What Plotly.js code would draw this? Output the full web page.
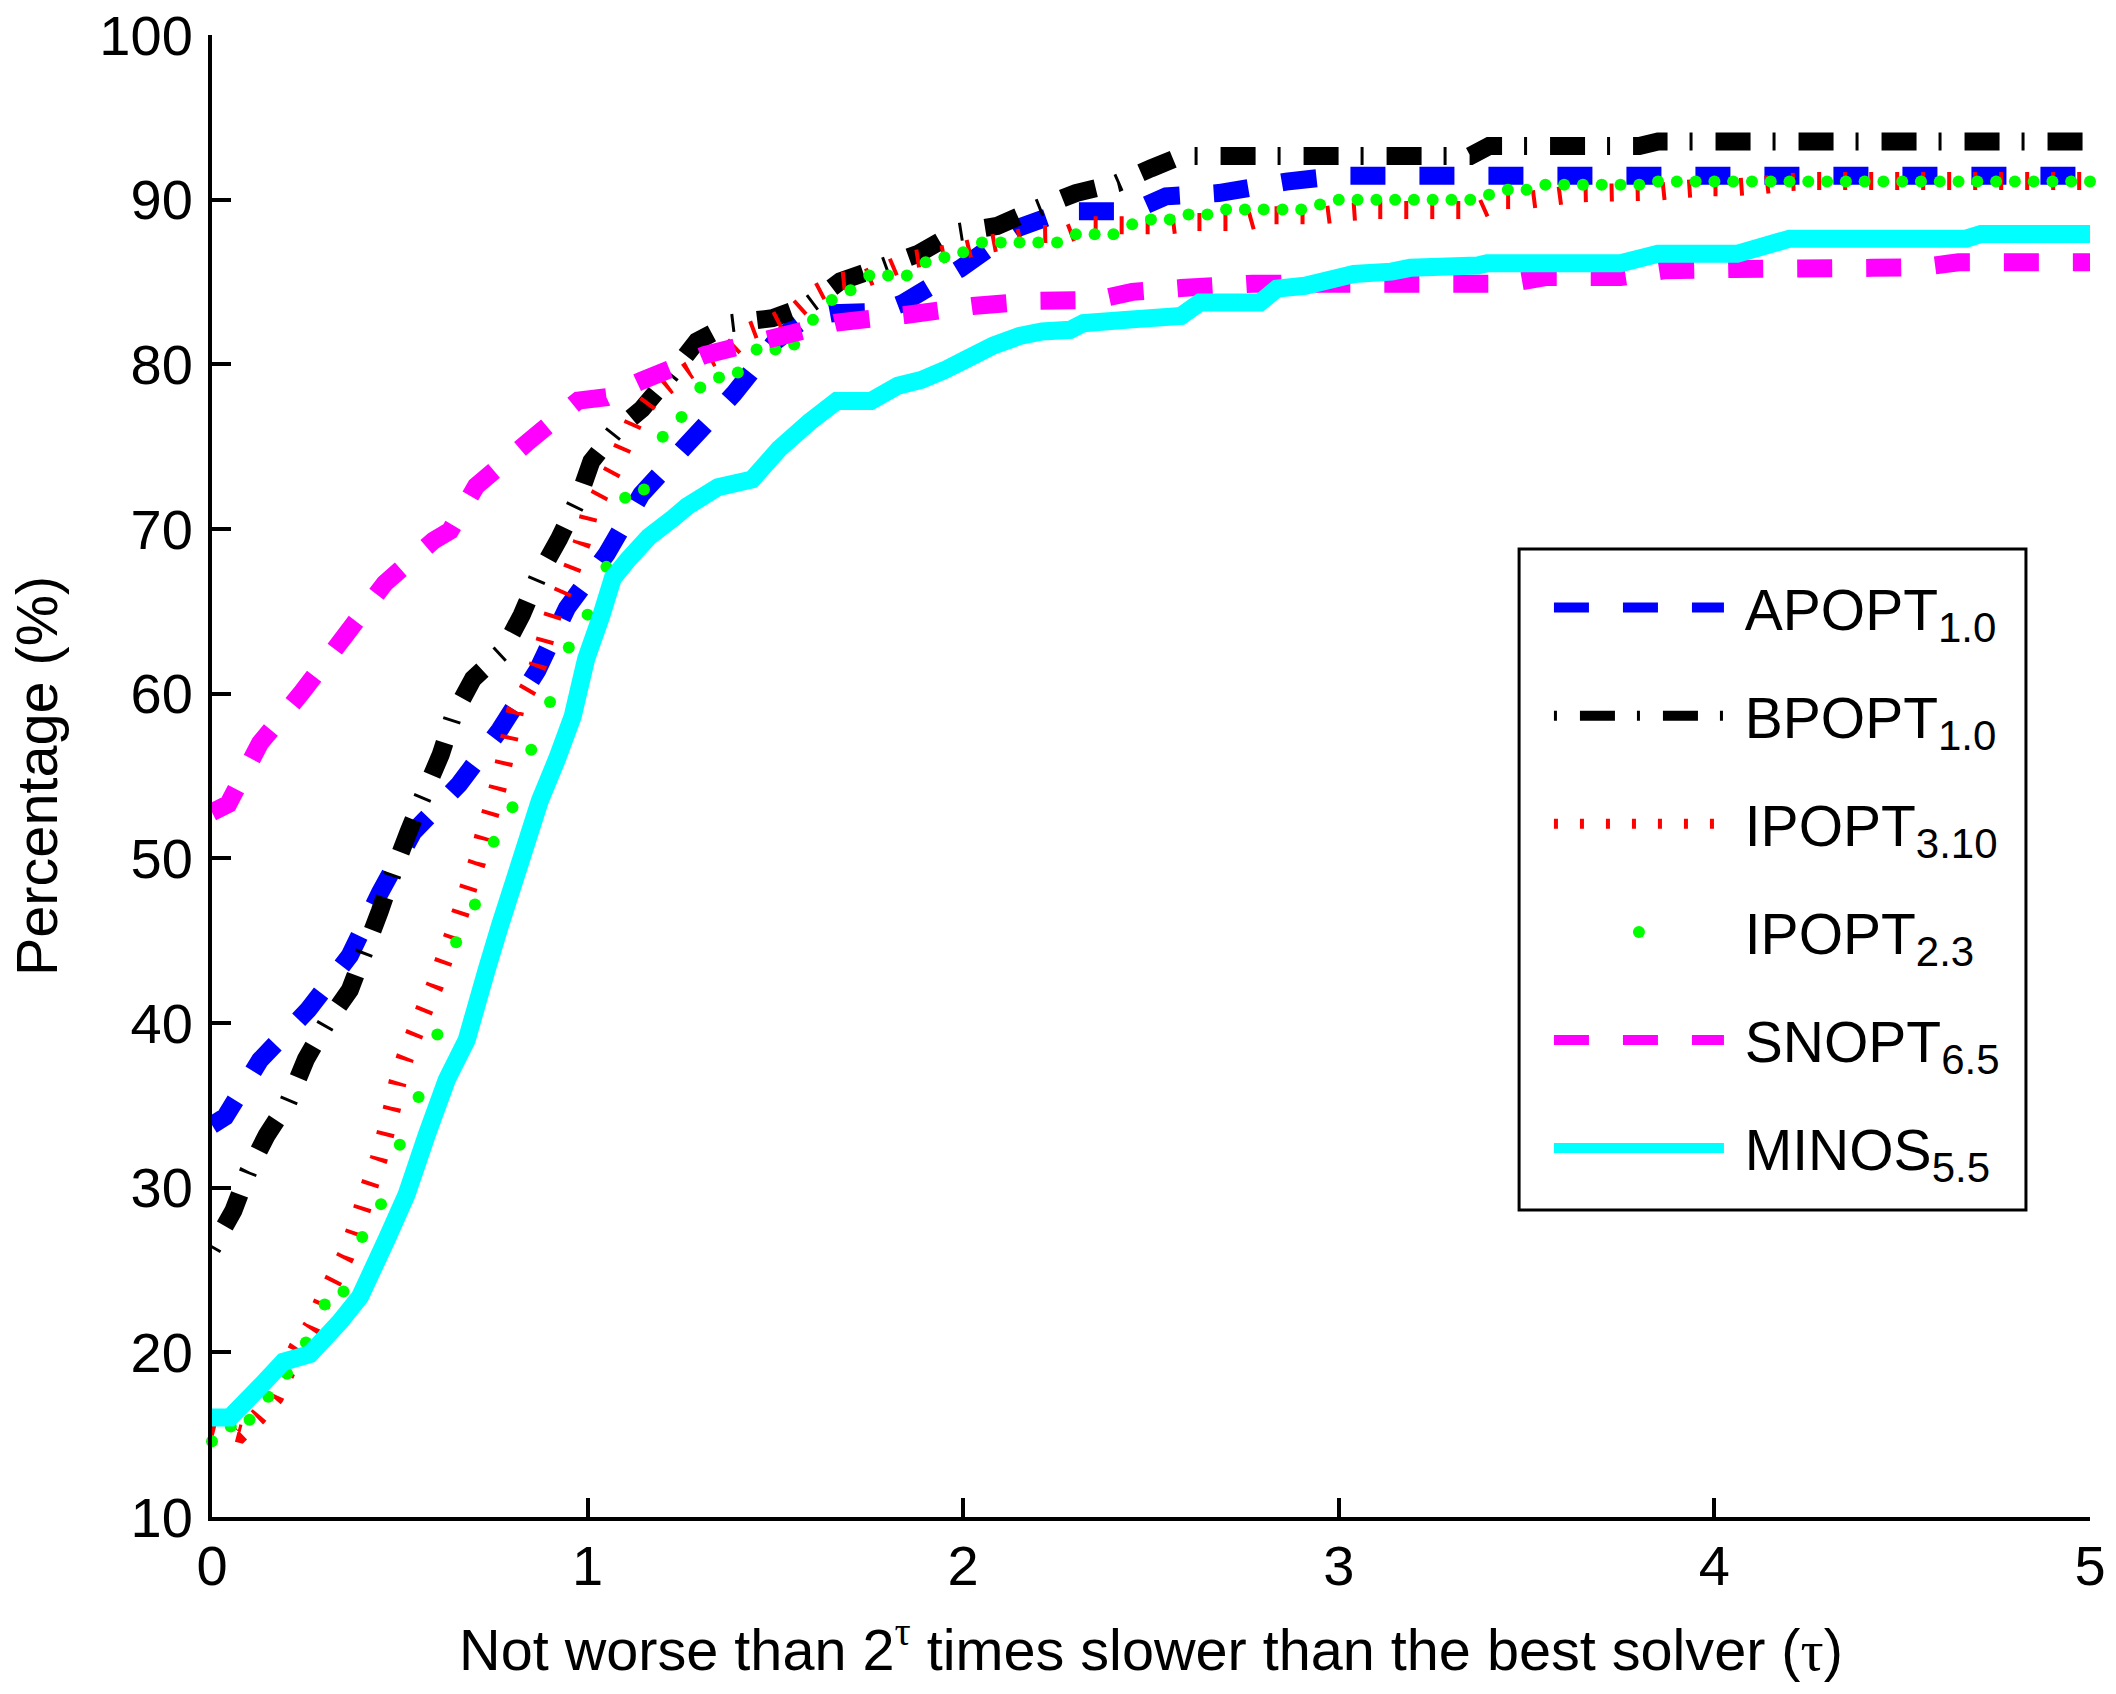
<!DOCTYPE html>
<html>
<head>
<meta charset="utf-8">
<script src="https://cdn.plot.ly/plotly-3.0.1.min.js"></script>
<style>html,body{margin:0;padding:0;background:#fff;}#chart{width:2116px;height:1694px;}</style>
</head>
<body>
<div id="chart"></div>
<script>
// ---- Data ----
const solverNames = ["APOPT", "BPOPT", "IPOPT", "IPOPT", "SNOPT", "MINOS"];
const solverVersions = ["1.0", "1.0", "3.10", "2.3", "6.5", "5.5"];

const tauApopt = [0, 0.035, 0.128, 0.256, 0.367, 0.447, 0.536, 0.658, 0.766, 0.866, 0.945, 1.051, 1.143, 1.263, 1.389, 1.50, 1.58, 1.652, 1.78, 1.838, 1.991, 2.147, 2.27, 2.45, 2.54, 2.68, 2.86, 3.0, 5.0];
const pctApopt = [33.8, 34.3, 37.75, 40.8, 44.1, 47.9, 51.6, 54.5, 57.8, 61.4, 65.2, 68.5, 72.1, 75.1, 78.2, 81.4, 82.8, 83.1, 83.2, 83.7, 85.8, 88.3, 89.3, 89.3, 90.2, 90.4, 91.1, 91.45, 91.45];

const tauBpopt = [0, 0.057, 0.097, 0.146, 0.203, 0.25, 0.305, 0.367, 0.407, 0.447, 0.483, 0.523, 0.567, 0.609, 0.643, 0.695, 0.773, 0.825, 0.87, 0.924, 0.973, 1.01, 1.072, 1.145, 1.219, 1.291, 1.382, 1.492, 1.589, 1.673, 1.782, 1.879, 1.979, 2.09, 2.19, 2.30, 2.41, 2.50, 2.58, 3.35, 3.40, 3.80, 3.85, 5.0];
const pctBpopt = [26.3, 28.6, 31.0, 33.2, 35.2, 37.8, 40.0, 42.0, 44.4, 46.8, 49.2, 51.6, 54.05, 56.3, 58.7, 60.9, 62.55, 64.8, 67.2, 69.4, 71.7, 74.1, 75.9, 77.3, 79.3, 81.4, 82.5, 82.8, 83.6, 85.05, 85.9, 86.7, 88.0, 88.4, 89.4, 90.4, 91.0, 91.9, 92.65, 92.65, 93.26, 93.26, 93.53, 93.53];

const tauIpopt310 = [0, 0.075, 0.123, 0.168, 0.227, 0.265, 0.295, 0.323, 0.356, 0.379, 0.401, 0.422, 0.444, 0.462, 0.48, 0.494, 0.514, 0.54, 0.567, 0.594, 0.617, 0.641, 0.663, 0.684, 0.706, 0.722, 0.742, 0.761, 0.777, 0.807, 0.843, 0.868, 0.888, 0.909, 0.936, 0.962, 0.985, 1.003, 1.034, 1.067, 1.094, 1.123, 1.163, 1.214, 1.27, 1.326, 1.385, 1.433, 1.495, 1.556, 1.607, 1.67, 1.737, 1.792, 1.862, 1.928, 2.0, 2.064, 2.135, 2.19, 2.28, 2.34, 2.55, 2.62, 2.755, 2.82, 2.96, 3.03, 3.1, 3.375, 3.435, 3.50, 3.57, 3.64, 3.85, 3.92, 3.985, 4.05, 4.12, 4.19, 4.26, 5.0];
const pctIpopt310 = [15.5, 15.06, 16.1, 17.3, 20.25, 21.56, 23.1, 24.37, 25.85, 27.3, 28.8, 30.3, 31.75, 33.3, 34.9, 36.4, 37.9, 39.4, 40.9, 42.3, 43.8, 45.3, 46.8, 48.3, 49.8, 51.3, 52.8, 54.3, 55.8, 58.96, 60.35, 61.74, 63.37, 64.88, 66.28, 67.79, 69.18, 70.81, 72.16, 73.56, 75.0, 76.5, 77.72, 78.72, 79.65, 80.35, 81.0, 82.03, 82.56, 83.26, 84.3, 85.05, 85.2, 85.7, 86.37, 86.6, 86.94, 87.29, 87.6, 87.9, 87.94, 88.45, 88.45, 88.65, 88.65, 89.06, 89.06, 89.26, 89.37, 89.37, 89.98, 89.98, 90.18, 90.39, 90.49, 90.65, 90.75, 90.75, 90.86, 91.06, 91.14, 91.14];

const tauGrid = [0, 0.05, 0.1, 0.15, 0.2, 0.25, 0.3, 0.35, 0.4, 0.45, 0.5, 0.55, 0.6, 0.65, 0.7, 0.75, 0.8, 0.85, 0.9, 0.95,
  1, 1.05, 1.1, 1.15, 1.2, 1.25, 1.3, 1.35, 1.4, 1.45, 1.5, 1.55, 1.6, 1.65, 1.7, 1.75, 1.8, 1.85, 1.9, 1.95,
  2, 2.05, 2.1, 2.15, 2.2, 2.25, 2.3, 2.35, 2.4, 2.45, 2.5, 2.55, 2.6, 2.65, 2.7, 2.75, 2.8, 2.85, 2.9, 2.95,
  3, 3.05, 3.1, 3.15, 3.2, 3.25, 3.3, 3.35, 3.4, 3.45, 3.5, 3.55, 3.6, 3.65, 3.7, 3.75, 3.8, 3.85, 3.9, 3.95,
  4, 4.05, 4.1, 4.15, 4.2, 4.25, 4.3, 4.35, 4.4, 4.45, 4.5, 4.55, 4.6, 4.65, 4.7, 4.75, 4.8, 4.85, 4.9, 4.95, 5];
const pctIpopt23 = [14.6, 15.5, 15.9, 17.3, 18.7, 20.6, 22.9, 23.7, 27.0, 29.0, 32.6, 35.5, 39.3, 44.9, 47.2, 51.0, 53.1, 56.6, 59.5, 62.8,
  64.8, 67.7, 71.9, 72.4, 75.6, 76.8, 78.6, 79.2, 79.5, 80.9, 80.9, 81.2, 82.7, 83.9, 84.5, 85.4, 85.4, 85.4, 86.2, 86.5,
  86.8, 87.4, 87.4, 87.4, 87.4, 87.4, 87.9, 87.9, 87.9, 88.5, 88.8, 88.8, 89.1, 89.1, 89.4, 89.4, 89.4, 89.4, 89.4, 89.7,
  90.0, 90.0, 90.0, 90.0, 90.0, 90.0, 90.0, 90.0, 90.3, 90.6, 90.6, 90.9, 90.9, 90.9, 90.9, 90.9, 90.9, 91.1, 91.1, 91.1,
  91.1, 91.1, 91.1, 91.1, 91.1, 91.1, 91.1, 91.1, 91.1, 91.1, 91.1, 91.1, 91.1, 91.1, 91.1, 91.1, 91.1, 91.1, 91.1, 91.1, 91.1];

const tauSnopt = [0, 0.0435, 0.128, 0.24, 0.35, 0.46, 0.59, 0.634, 0.703, 0.842, 0.975, 1.05, 1.143, 1.311, 1.484, 1.663, 1.846, 2.025, 2.193, 2.35, 2.45, 2.58, 2.77, 3.45, 3.55, 3.75, 3.865, 4.05, 4.42, 4.55, 4.65, 5.0];
const pctSnopt = [52.8, 53.3, 57.0, 60.1, 63.4, 66.7, 69.3, 69.9, 72.6, 75.3, 77.8, 78.0, 79.0, 80.56, 81.54, 82.54, 83.0, 83.54, 83.86, 83.9, 84.4, 84.63, 84.9, 84.9, 85.3, 85.3, 85.71, 85.79, 85.86, 85.9, 86.2, 86.2];

const tauMinos = [0, 0.048, 0.128, 0.19, 0.261, 0.341, 0.394, 0.465, 0.518, 0.572, 0.625, 0.678, 0.731, 0.767, 0.82, 0.873, 0.918, 0.960, 0.996, 1.036, 1.067, 1.107, 1.163, 1.229, 1.265, 1.347, 1.438, 1.51, 1.591, 1.663, 1.754, 1.826, 1.888, 1.949, 2.01, 2.08, 2.15, 2.21, 2.285, 2.32, 2.45, 2.58, 2.63, 2.79, 2.835, 2.91, 3.04, 3.14, 3.19, 3.37, 3.395, 3.75, 3.85, 4.06, 4.20, 4.67, 4.71, 5.0];
const pctMinos = [16.05, 16.05, 17.92, 19.43, 19.89, 21.86, 23.37, 26.86, 29.58, 33.22, 36.55, 38.97, 43.21, 45.94, 49.72, 53.51, 56.0, 58.6, 62.1, 64.7, 67.0, 68.13, 69.52, 70.68, 71.38, 72.54, 73.01, 74.87, 76.5, 77.77, 77.77, 78.7, 79.05, 79.63, 80.33, 81.14, 81.72, 82.0, 82.1, 82.5, 82.73, 82.94, 83.75, 83.75, 84.6, 84.77, 85.49, 85.63, 85.86, 86.0, 86.14, 86.14, 86.71, 86.71, 87.63, 87.63, 87.92, 87.92];

const xTickVals = [0, 1, 2, 3, 4, 5];
const yTickVals = [10, 20, 30, 40, 50, 60, 70, 80, 90, 100];

// ---- Figure ----
const FONT = "Liberation Sans, Arial, Helvetica, sans-serif";
const LW = 18;
const NB = "\u00A0";

function legendLabel(i) {
  return NB + solverNames[i] + '<sub><span style="font-size:42px">' + solverVersions[i] + '</span></sub>';
}

function lineTrace(x, y, i, color, dash) {
  return {x: x, y: y, name: legendLabel(i), type: 'scatter', mode: 'lines', legendgroup: 'g' + i,
    line: {color: color, width: LW, dash: dash, simplify: false}};
}

const traces = [
  lineTrace(tauApopt, pctApopt, 0, '#0000ff', '35px,34px'),
  lineTrace(tauBpopt, pctBpopt, 1, '#000000', '3px,23px,35px,22px'),
  lineTrace(tauIpopt310, pctIpopt310, 2, '#ff0000', '4px,22px'),
  {x: tauGrid, y: pctIpopt23, name: legendLabel(3), type: 'scatter', mode: 'markers', legendgroup: 'g3',
    cliponaxis: false, marker: {color: '#00ff00', size: 12}},
  lineTrace(tauSnopt, pctSnopt, 4, '#ff00ff', '35px,34px'),
  lineTrace(tauMinos, pctMinos, 5, '#00ffff', 'solid')
];

const axisCommon = {
  showgrid: false, zeroline: false, showline: true, linecolor: '#000', linewidth: 4,
  ticks: 'inside', ticklen: 19, tickwidth: 4, tickcolor: '#000', mirror: false,
  tickfont: {family: FONT, size: 56, color: '#000'}, automargin: false
};

const layout = {
  width: 2116, height: 1694,
  margin: {l: 212, r: 26, t: 35, b: 177},
  paper_bgcolor: '#fff', plot_bgcolor: '#fff',
  font: {family: FONT, size: 56, color: '#000'},
  xaxis: Object.assign({}, axisCommon, {
    range: [0, 5], tickvals: xTickVals, ticktext: xTickVals.map(String), ticklabelstandoff: -3,
    title: {text: 'Not worse than 2<sup><span style="font-family:Liberation Serif">τ</span></sup> times slower than the best solver (<span style="font-family:Liberation Serif">τ</span>)',
      font: {family: FONT, size: 57.6, color: '#000'}, standoff: 34}
  }),
  yaxis: Object.assign({}, axisCommon, {
    range: [10, 100], tickvals: yTickVals, ticktext: yTickVals.map(String), ticklabelstandoff: 4,
    title: {text: 'Percentage (%)', font: {family: FONT, size: 57.6, color: '#000'}, standoff: 24}
  }),
  shapes: [{
    type: 'rect', xref: 'paper', yref: 'paper', layer: 'above',
    x0: 0.696, x1: 0.9659, y0: 0.2072, y1: 0.6532,
    line: {color: '#000', width: 3}, fillcolor: '#ffffff'
  }],
  showlegend: true,
  legend: {
    x: 0.7119, y: 0.643, xanchor: 'left', yanchor: 'top',
    bgcolor: 'rgba(0,0,0,0)', borderwidth: 0,
    font: {family: FONT, size: 57, color: '#000'},
    itemwidth: 170, tracegroupgap: 31, traceorder: 'grouped', itemsizing: 'trace'
  }
};

Plotly.newPlot('chart', traces, layout, {staticPlot: true, displayModeBar: false});
</script>
</body>
</html>
